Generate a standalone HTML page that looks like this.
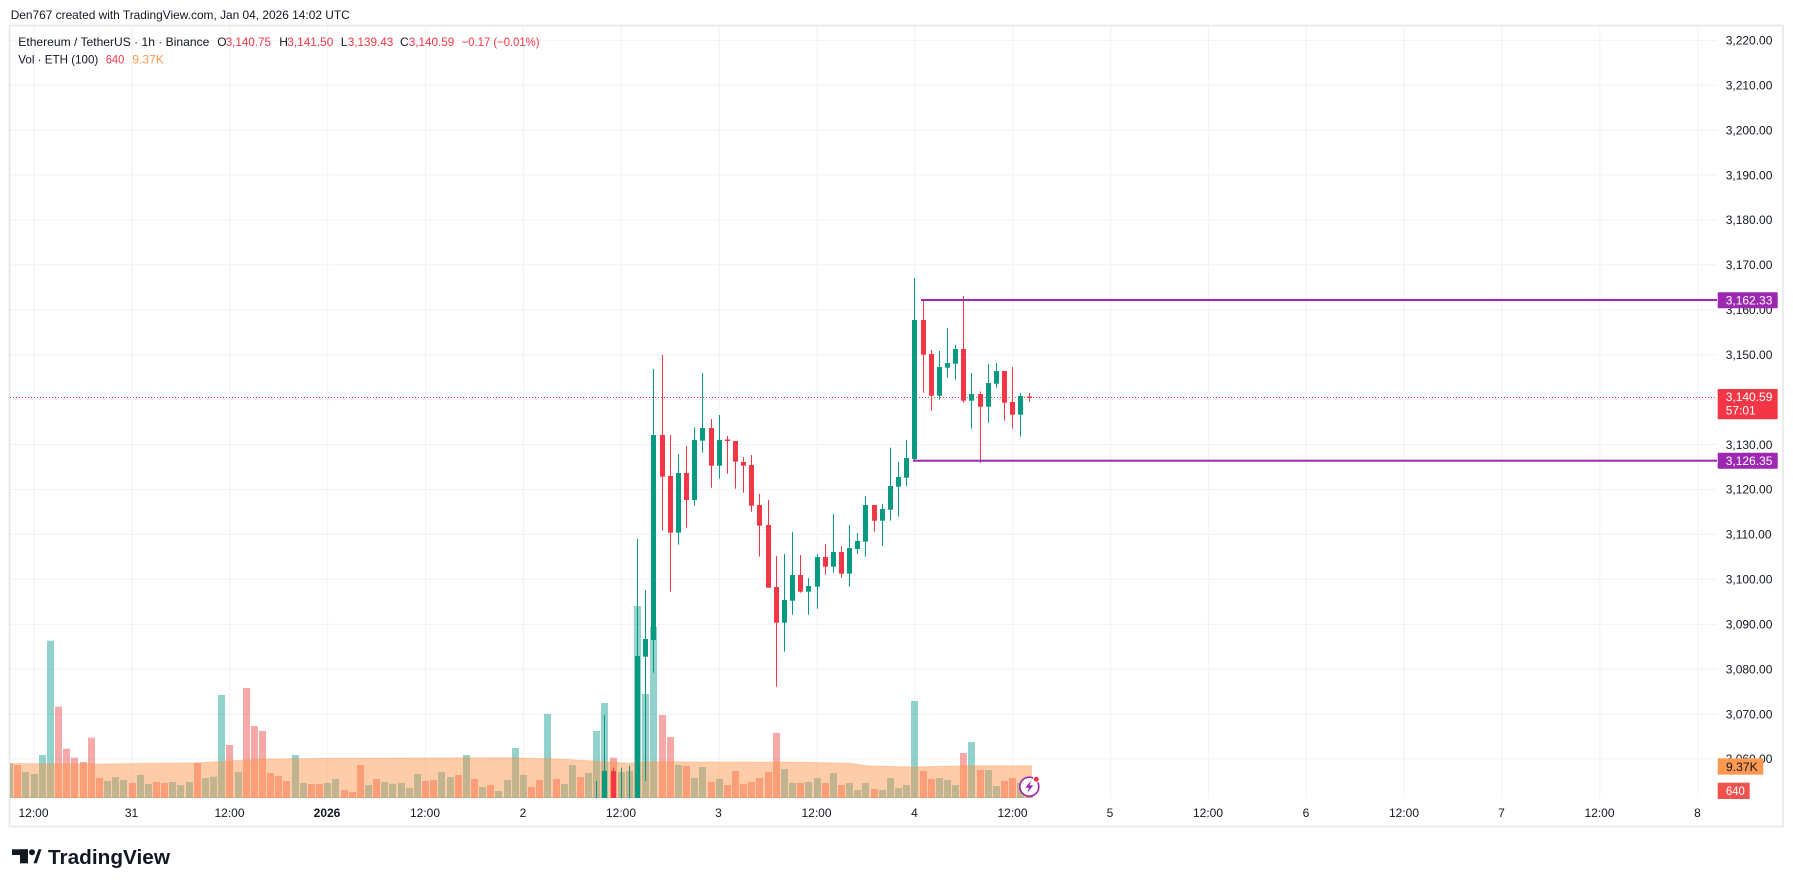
<!DOCTYPE html>
<html><head><meta charset="utf-8"><style>
html,body{margin:0;padding:0;background:#fff;}
svg{display:block;}
text{font-family:"Liberation Sans",Arial,sans-serif;}
</style></head><body>
<svg width="1793" height="887" viewBox="0 0 1793 887" xmlns="http://www.w3.org/2000/svg">
<defs><clipPath id="pane"><rect x="10" y="26" width="1707" height="772"/></clipPath></defs>
<rect x="0" y="0" width="1793" height="887" fill="#fff"/>
<!-- header -->
<text x="10.7" y="19" font-size="12" fill="#131722" textLength="339" lengthAdjust="spacingAndGlyphs">Den767 created with TradingView.com, Jan 04, 2026 14:02 UTC</text>
<!-- frame -->
<rect x="9.5" y="25.5" width="1773.5" height="801" fill="none" stroke="#e6e6e6" stroke-width="1.5"/>
<!-- grid -->
<g stroke="#f0f1f4" stroke-width="1">
<line x1="10" x2="1717" y1="40.3" y2="40.3"/><line x1="10" x2="1717" y1="85.2" y2="85.2"/><line x1="10" x2="1717" y1="130.1" y2="130.1"/><line x1="10" x2="1717" y1="175" y2="175"/><line x1="10" x2="1717" y1="219.9" y2="219.9"/><line x1="10" x2="1717" y1="264.9" y2="264.9"/><line x1="10" x2="1717" y1="309.8" y2="309.8"/><line x1="10" x2="1717" y1="354.7" y2="354.7"/><line x1="10" x2="1717" y1="399.6" y2="399.6"/><line x1="10" x2="1717" y1="444.5" y2="444.5"/><line x1="10" x2="1717" y1="489.4" y2="489.4"/><line x1="10" x2="1717" y1="534.3" y2="534.3"/><line x1="10" x2="1717" y1="579.3" y2="579.3"/><line x1="10" x2="1717" y1="624.2" y2="624.2"/><line x1="10" x2="1717" y1="669.1" y2="669.1"/><line x1="10" x2="1717" y1="714" y2="714"/><line x1="10" x2="1717" y1="758.9" y2="758.9"/>
<line x1="34.1" x2="34.1" y1="26" y2="798"/><line x1="132" x2="132" y1="26" y2="798"/><line x1="229.9" x2="229.9" y1="26" y2="798"/><line x1="327.7" x2="327.7" y1="26" y2="798"/><line x1="425.6" x2="425.6" y1="26" y2="798"/><line x1="523.4" x2="523.4" y1="26" y2="798"/><line x1="621.3" x2="621.3" y1="26" y2="798"/><line x1="719.2" x2="719.2" y1="26" y2="798"/><line x1="817" x2="817" y1="26" y2="798"/><line x1="914.9" x2="914.9" y1="26" y2="798"/><line x1="1012.7" x2="1012.7" y1="26" y2="798"/><line x1="1110.6" x2="1110.6" y1="26" y2="798"/><line x1="1208.4" x2="1208.4" y1="26" y2="798"/><line x1="1306.3" x2="1306.3" y1="26" y2="798"/><line x1="1404.2" x2="1404.2" y1="26" y2="798"/><line x1="1502" x2="1502" y1="26" y2="798"/><line x1="1599.9" x2="1599.9" y1="26" y2="798"/><line x1="1697.8" x2="1697.8" y1="26" y2="798"/>
</g>
<g clip-path="url(#pane)">
<!-- volume bars -->
<rect x="10" y="797.5" width="1022" height="1.2" fill="rgba(38,166,154,0.5)"/>
<g fill="rgba(38,166,154,0.5)">
<rect x="6" y="763.3" width="7" height="34.7"/><rect x="22" y="772" width="7" height="26"/><rect x="31" y="774" width="7" height="24"/><rect x="39" y="755" width="7" height="43"/><rect x="47" y="640.7" width="7" height="157.3"/><rect x="104" y="781" width="7" height="17"/><rect x="112" y="777" width="7" height="21"/><rect x="120" y="780" width="7" height="18"/><rect x="137" y="775" width="7" height="23"/><rect x="145" y="784" width="7" height="14"/><rect x="169" y="782" width="7" height="16"/><rect x="177" y="785" width="7" height="13"/><rect x="186" y="782" width="7" height="16"/><rect x="202" y="778" width="7" height="20"/><rect x="210" y="776.7" width="7" height="21.3"/><rect x="218" y="695" width="7" height="103"/><rect x="235" y="772" width="7" height="26"/><rect x="292" y="755" width="7" height="43"/><rect x="300" y="783" width="7" height="15"/><rect x="324" y="783" width="7" height="15"/><rect x="332" y="779" width="7" height="19"/><rect x="365" y="785" width="7" height="13"/><rect x="381" y="782" width="7" height="16"/><rect x="389" y="783.7" width="7" height="14.3"/><rect x="398" y="783" width="7" height="15"/><rect x="406" y="788" width="7" height="10"/><rect x="414" y="774" width="7" height="24"/><rect x="438" y="772" width="7" height="26"/><rect x="447" y="777" width="7" height="21"/><rect x="463" y="755" width="7" height="43"/><rect x="479" y="787" width="7" height="11"/><rect x="495" y="791" width="7" height="7"/><rect x="504" y="780" width="7" height="18"/><rect x="512" y="748" width="7" height="50"/><rect x="520" y="775" width="7" height="23"/><rect x="544" y="714" width="7" height="84"/><rect x="561" y="784" width="7" height="14"/><rect x="569" y="765" width="7" height="33"/><rect x="585" y="773" width="7" height="25"/><rect x="593" y="731" width="7" height="67"/><rect x="601" y="703" width="7" height="95"/><rect x="618" y="772" width="7" height="26"/><rect x="626" y="771" width="7" height="27"/><rect x="634" y="606" width="7" height="192"/><rect x="642" y="694" width="7" height="104"/><rect x="650" y="626.7" width="7" height="171.3"/><rect x="675" y="765" width="7" height="33"/><rect x="691" y="778" width="7" height="20"/><rect x="699" y="767" width="7" height="31"/><rect x="716" y="779" width="7" height="19"/><rect x="781" y="769" width="7" height="29"/><rect x="789" y="783" width="7" height="15"/><rect x="805" y="782" width="7" height="16"/><rect x="814" y="778" width="7" height="20"/><rect x="830" y="773" width="7" height="25"/><rect x="846" y="783" width="7" height="15"/><rect x="854" y="790" width="7" height="8"/><rect x="862" y="783" width="7" height="15"/><rect x="879" y="790" width="7" height="8"/><rect x="887" y="778" width="7" height="20"/><rect x="895" y="788" width="7" height="10"/><rect x="903" y="785" width="7" height="13"/><rect x="911" y="701" width="7" height="97"/><rect x="936" y="778" width="7" height="20"/><rect x="944" y="780" width="7" height="18"/><rect x="952" y="785" width="7" height="13"/><rect x="968" y="742" width="7" height="56"/><rect x="985" y="770" width="7" height="28"/><rect x="993" y="786" width="7" height="12"/><rect x="1017" y="783" width="7" height="15"/>
</g>
<g fill="rgba(239,83,80,0.5)">
<rect x="14" y="765" width="7" height="33"/><rect x="55" y="706.7" width="7" height="91.3"/><rect x="63" y="748.7" width="7" height="49.3"/><rect x="71" y="757.7" width="7" height="40.3"/><rect x="80" y="762" width="7" height="36"/><rect x="88" y="737.7" width="7" height="60.3"/><rect x="96" y="778" width="7" height="20"/><rect x="129" y="783" width="7" height="15"/><rect x="153" y="782" width="7" height="16"/><rect x="161" y="783" width="7" height="15"/><rect x="194" y="763" width="7" height="35"/><rect x="226" y="745" width="7" height="53"/><rect x="243" y="688" width="7" height="110"/><rect x="251" y="726" width="7" height="72"/><rect x="259" y="731" width="7" height="67"/><rect x="267" y="773" width="7" height="25"/><rect x="275" y="776" width="7" height="22"/><rect x="283" y="781" width="7" height="17"/><rect x="308" y="784" width="7" height="14"/><rect x="316" y="784" width="7" height="14"/><rect x="341" y="790" width="7" height="8"/><rect x="349" y="792" width="7" height="6"/><rect x="357" y="765" width="7" height="33"/><rect x="373" y="779" width="7" height="19"/><rect x="422" y="781" width="7" height="17"/><rect x="430" y="780" width="7" height="18"/><rect x="455" y="775" width="7" height="23"/><rect x="471" y="779" width="7" height="19"/><rect x="487" y="785" width="7" height="13"/><rect x="528" y="787" width="7" height="11"/><rect x="536" y="780" width="7" height="18"/><rect x="553" y="779" width="7" height="19"/><rect x="577" y="777" width="7" height="21"/><rect x="610" y="757.7" width="7" height="40.3"/><rect x="659" y="715" width="7" height="83"/><rect x="667" y="737" width="7" height="61"/><rect x="683" y="766" width="7" height="32"/><rect x="708" y="782" width="7" height="16"/><rect x="724" y="785" width="7" height="13"/><rect x="732" y="771" width="7" height="27"/><rect x="740" y="784" width="7" height="14"/><rect x="748" y="782" width="7" height="16"/><rect x="756" y="778" width="7" height="20"/><rect x="765" y="772" width="7" height="26"/><rect x="773" y="733" width="7" height="65"/><rect x="797" y="783" width="7" height="15"/><rect x="822" y="783" width="7" height="15"/><rect x="838" y="785" width="7" height="13"/><rect x="871" y="789" width="7" height="9"/><rect x="920" y="771" width="7" height="27"/><rect x="928" y="779" width="7" height="19"/><rect x="960" y="753" width="7" height="45"/><rect x="977" y="770" width="7" height="28"/><rect x="1001" y="781" width="7" height="17"/><rect x="1009" y="778" width="7" height="20"/><rect x="1026" y="796.5" width="7" height="1.5"/>
</g>
<!-- volume MA area -->
<polygon fill="rgba(251,144,66,0.45)" points="9,763.5 100,764 200,762.7 233,760.7 267,759 333,758.3 400,758 510,757.7 560,759 593,761 630,763.3 640,761.7 800,762.3 850,763.3 867,765.7 910,767 967,765.7 1032,765.7 1032,798 9,798"/>
<polyline fill="none" stroke="rgba(251,150,80,0.35)" stroke-width="1" points="9,763.5 100,764 200,762.7 233,760.7 267,759 333,758.3 400,758 510,757.7 560,759 593,761 630,763.3 640,761.7 800,762.3 850,763.3 867,765.7 910,767 967,765.7 1032,765.7"/>
<!-- price line -->
<line x1="10" x2="1717" y1="397.5" y2="397.5" stroke="#f23645" stroke-width="1" stroke-dasharray="1,2"/>
<!-- candles green -->
<g fill="#089981">
<rect x="596" y="781" width="1" height="17"/>
<rect x="604" y="715" width="1" height="83"/><rect x="602" y="771" width="5" height="27"/>
<rect x="621" y="767.7" width="1" height="30.3"/>
<rect x="629" y="765.7" width="1" height="32.3"/>
<rect x="637" y="539" width="1" height="259"/><rect x="635" y="656" width="5" height="142"/>
<rect x="645" y="590" width="1" height="191"/><rect x="643" y="639" width="5" height="17.7"/>
<rect x="653" y="369" width="1" height="303.7"/><rect x="651" y="435" width="5" height="205"/>
<rect x="678" y="454" width="1" height="90.7"/><rect x="676" y="473" width="5" height="59.7"/>
<rect x="694" y="427.3" width="1" height="78.4"/><rect x="692" y="440" width="5" height="60"/>
<rect x="702" y="373" width="1" height="79.7"/><rect x="700" y="428" width="5" height="12.7"/>
<rect x="719" y="415" width="1" height="63.7"/><rect x="717" y="440" width="5" height="25.7"/>
<rect x="784" y="554" width="1" height="97.7"/><rect x="782" y="600" width="5" height="22.7"/>
<rect x="792" y="532" width="1" height="82.7"/><rect x="790" y="575" width="5" height="25.7"/>
<rect x="808" y="578" width="1" height="36.7"/><rect x="806" y="586" width="5" height="5.7"/>
<rect x="817" y="554" width="1" height="54.7"/><rect x="815" y="557" width="5" height="29.7"/>
<rect x="833" y="514" width="1" height="58.7"/><rect x="831" y="552" width="5" height="14.7"/>
<rect x="849" y="525" width="1" height="61.7"/><rect x="847" y="548" width="5" height="25.7"/>
<rect x="857" y="533" width="1" height="21"/><rect x="855" y="541" width="5" height="8"/>
<rect x="865" y="496" width="1" height="60.7"/><rect x="863" y="505" width="5" height="36.7"/>
<rect x="882" y="504" width="1" height="42"/><rect x="880" y="509" width="5" height="11.7"/>
<rect x="890" y="447.7" width="1" height="73"/><rect x="888" y="486" width="5" height="23.7"/>
<rect x="898" y="461.7" width="1" height="55"/><rect x="896" y="477" width="5" height="9.7"/>
<rect x="906" y="440" width="1" height="46"/><rect x="904" y="458" width="5" height="19.7"/>
<rect x="914" y="278" width="1" height="183"/><rect x="912" y="320" width="5" height="139"/>
<rect x="939" y="351" width="1" height="48.7"/><rect x="937" y="367" width="5" height="28.7"/>
<rect x="947" y="328" width="1" height="49.7"/><rect x="945" y="363" width="5" height="4.7"/>
<rect x="955" y="345" width="1" height="34.7"/><rect x="953" y="349" width="5" height="14.7"/>
<rect x="971" y="373" width="1" height="55.7"/><rect x="969" y="394" width="5" height="6.7"/>
<rect x="988" y="364" width="1" height="58.7"/><rect x="986" y="383" width="5" height="23.7"/>
<rect x="996" y="363" width="1" height="24.7"/><rect x="994" y="371" width="5" height="12.7"/>
<rect x="1020" y="393" width="1" height="43.7"/><rect x="1018" y="396" width="5" height="18.7"/>
</g>
<!-- candles red -->
<g fill="#f23645">
<rect x="613" y="767.7" width="1" height="30.3"/><rect x="611" y="771" width="5" height="27"/>
<rect x="662" y="355" width="1" height="175.7"/><rect x="660" y="435" width="5" height="41.7"/>
<rect x="670" y="435" width="1" height="156.7"/><rect x="668" y="476" width="5" height="56.7"/>
<rect x="686" y="446" width="1" height="81.7"/><rect x="684" y="473" width="5" height="27"/>
<rect x="711" y="419" width="1" height="68.7"/><rect x="709" y="428" width="5" height="37.7"/>
<rect x="727" y="436" width="1" height="37.7"/><rect x="725" y="439.5" width="5" height="1.5"/>
<rect x="735" y="441" width="1" height="47.7"/><rect x="733" y="441" width="5" height="20.7"/>
<rect x="743" y="457" width="1" height="35.7"/><rect x="741" y="462" width="5" height="3.7"/>
<rect x="751" y="455" width="1" height="56.7"/><rect x="749" y="465" width="5" height="40.7"/>
<rect x="759" y="494" width="1" height="62.7"/><rect x="757" y="505" width="5" height="20.7"/>
<rect x="768" y="500" width="1" height="87.7"/><rect x="766" y="525" width="5" height="62.7"/>
<rect x="776" y="556" width="1" height="130.7"/><rect x="774" y="587" width="5" height="35.7"/>
<rect x="800" y="555" width="1" height="37.7"/><rect x="798" y="575" width="5" height="16.7"/>
<rect x="825" y="544" width="1" height="30.7"/><rect x="823" y="557" width="5" height="9.7"/>
<rect x="841" y="546" width="1" height="31.7"/><rect x="839" y="552" width="5" height="21.7"/>
<rect x="874" y="505" width="1" height="26.7"/><rect x="872" y="505" width="5" height="15.7"/>
<rect x="923" y="300" width="1" height="92.7"/><rect x="921" y="320" width="5" height="34.7"/>
<rect x="931" y="350" width="1" height="60.7"/><rect x="929" y="354" width="5" height="41.7"/>
<rect x="963" y="296" width="1" height="106.7"/><rect x="961" y="349" width="5" height="51.7"/>
<rect x="980" y="391.3" width="1" height="71.4"/><rect x="978" y="394" width="5" height="12.7"/>
<rect x="1004" y="371" width="1" height="49.7"/><rect x="1002" y="371" width="5" height="31.7"/>
<rect x="1012" y="367" width="1" height="61.7"/><rect x="1010" y="402" width="5" height="12.7"/>
<rect x="1029" y="393" width="1" height="8.7"/><rect x="1027" y="396.5" width="5" height="1.5"/>
</g>
<!-- horizontal ray lines -->
<rect x="921" y="299" width="796" height="2" fill="#9c27b0"/>
<rect x="913" y="459.7" width="804" height="2" fill="#9c27b0"/>
<!-- icon -->
<circle cx="1029.3" cy="786.7" r="9.5" fill="#fff" stroke="#9c27b0" stroke-width="1.6"/>
<path d="M1031,780.5 L1025.3,787.8 L1028.9,787.8 L1027.3,793 L1033.2,785.4 L1029.6,785.4 Z" fill="#9c27b0"/>
<circle cx="1036.3" cy="779.3" r="3" fill="#f23645" stroke="#fff" stroke-width="1"/>
</g>
<!-- legend -->
<g font-size="12">
<text x="18.3" y="46" fill="#131722" textLength="191" lengthAdjust="spacingAndGlyphs">Ethereum / TetherUS · 1h · Binance</text>
<text x="217.3" y="46" fill="#131722">O</text>
<text x="225.7" y="46" fill="#f23645" textLength="45.3" lengthAdjust="spacingAndGlyphs">3,140.75</text>
<text x="279.3" y="46" fill="#131722">H</text>
<text x="287.3" y="46" fill="#f23645" textLength="46" lengthAdjust="spacingAndGlyphs">3,141.50</text>
<text x="340.7" y="46" fill="#131722">L</text>
<text x="347.7" y="46" fill="#f23645" textLength="45.6" lengthAdjust="spacingAndGlyphs">3,139.43</text>
<text x="400" y="46" fill="#131722">C</text>
<text x="408.7" y="46" fill="#f23645" textLength="45.6" lengthAdjust="spacingAndGlyphs">3,140.59</text>
<text x="461.7" y="46" fill="#f23645" textLength="77.8" lengthAdjust="spacingAndGlyphs">−0.17 (−0.01%)</text>
<text x="18.3" y="63.3" fill="#131722" textLength="80" lengthAdjust="spacingAndGlyphs">Vol · ETH (100)</text>
<text x="105.7" y="63.3" fill="#f23645" textLength="18.6" lengthAdjust="spacingAndGlyphs">640</text>
<text x="132.3" y="63.3" fill="#ff9850" textLength="31.7" lengthAdjust="spacingAndGlyphs">9.37K</text>
</g>
<!-- price axis -->
<g font-size="12" fill="#131722">
<text x="1725.7" y="44.6">3,220.00</text><text x="1725.7" y="89.5">3,210.00</text><text x="1725.7" y="134.4">3,200.00</text><text x="1725.7" y="179.3">3,190.00</text><text x="1725.7" y="224.2">3,180.00</text><text x="1725.7" y="269.2">3,170.00</text><text x="1725.7" y="314.1">3,160.00</text><text x="1725.7" y="359">3,150.00</text><text x="1725.7" y="448.8">3,130.00</text><text x="1725.7" y="493.7">3,120.00</text><text x="1725.7" y="538.6">3,110.00</text><text x="1725.7" y="583.6">3,100.00</text><text x="1725.7" y="628.5">3,090.00</text><text x="1725.7" y="673.4">3,080.00</text><text x="1725.7" y="718.3">3,070.00</text><text x="1725.7" y="763.2">3,060.00</text>
</g>
<!-- badges -->
<rect x="1717.7" y="292.3" width="60" height="16" fill="#9c27b0" rx="1"/>
<text x="1725.7" y="304.6" font-size="12" fill="#fff">3,162.33</text>
<rect x="1717.7" y="389" width="60" height="30.3" fill="#f23645" rx="1"/>
<text x="1725.7" y="401" font-size="12" fill="#fff">3,140.59</text>
<text x="1725.7" y="414.5" font-size="12" fill="#fff">57:01</text>
<rect x="1717.7" y="452.7" width="60" height="16" fill="#9c27b0" rx="1"/>
<text x="1725.7" y="465" font-size="12" fill="#fff">3,126.35</text>
<rect x="1717.7" y="758.3" width="45.6" height="16.4" fill="#ff9850"/>
<text x="1726" y="770.8" font-size="12" fill="#131722" textLength="31.7" lengthAdjust="spacingAndGlyphs">9.37K</text>
<rect x="1717.7" y="782.7" width="32" height="16.3" fill="#ef5350"/>
<text x="1726" y="795.2" font-size="12" fill="#fff" textLength="18.7" lengthAdjust="spacingAndGlyphs">640</text>
<!-- time axis -->
<g font-size="12" fill="#131722" text-anchor="middle">
<text x="33.5" y="817">12:00</text><text x="131.5" y="817">31</text><text x="229.5" y="817">12:00</text><text x="327" y="817" font-weight="bold">2026</text><text x="425" y="817">12:00</text><text x="523" y="817">2</text><text x="621" y="817">12:00</text><text x="718.5" y="817">3</text><text x="816.5" y="817">12:00</text><text x="914.5" y="817">4</text><text x="1012.5" y="817">12:00</text><text x="1110" y="817">5</text><text x="1208" y="817">12:00</text><text x="1306" y="817">6</text><text x="1404" y="817">12:00</text><text x="1501.5" y="817">7</text><text x="1599.5" y="817">12:00</text><text x="1697.5" y="817">8</text>
</g>
<!-- TradingView logo -->
<g fill="#131722">
<rect x="12" y="849.3" width="16" height="5.7"/>
<rect x="20" y="849.3" width="8" height="14"/>
<circle cx="32" cy="852.3" r="3"/>
<polygon points="33.5,863.3 38.5,849.3 41.5,849.3 36.8,863.3"/>
</g>
<text x="48" y="864" font-size="20" font-weight="bold" fill="#131722" textLength="122" lengthAdjust="spacingAndGlyphs">TradingView</text>
</svg>
</body></html>
